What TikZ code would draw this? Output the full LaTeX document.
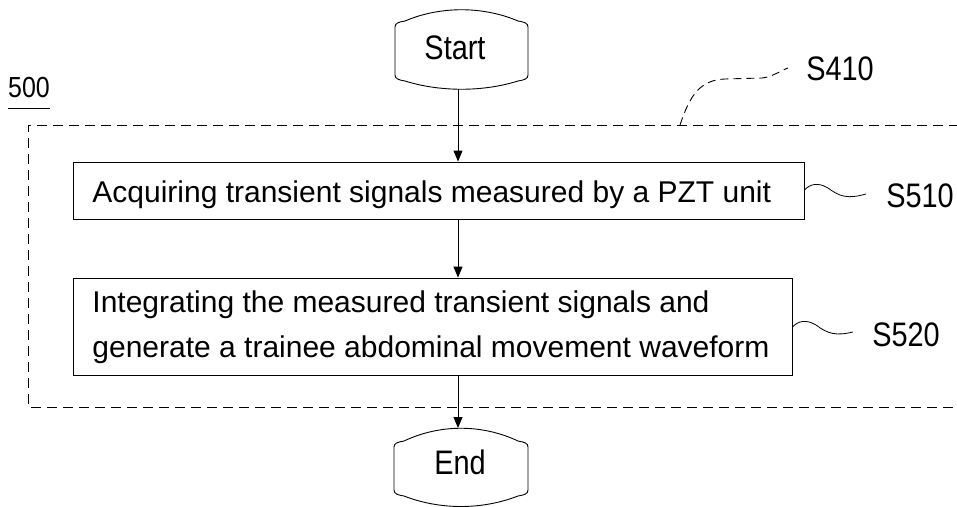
\documentclass[tikz,border=0pt]{standalone}
\usepackage{fontspec}
\setmainfont{Liberation Sans}
\usetikzlibrary{arrows.meta}
\newcommand{\lbtext}[1]{\scalebox{0.85}[1]{#1}}
\begin{document}
\begin{tikzpicture}[x=1pt,y=-1pt,
  line width=0.9pt,
  boxstyle/.style={draw, line width=0.9pt, inner sep=0pt},
  txt/.style={inner sep=0pt, font=\fontsize{30}{36}\selectfont},
  lbl/.style={inner sep=0pt, font=\fontsize{34}{40}\selectfont},
  arr/.style={line width=0.9pt, -{Triangle[width=9pt,length=11pt]}},
  dashbox/.style={line width=0.9pt, dash pattern=on 10pt off 6pt},
  squig/.style={line width=0.8pt}]
\useasboundingbox (0,0) rectangle (957,506);

% dashed frame S410 (right side lies beyond the picture)
\draw[dashbox] (975,125) -- (28,125) -- (28,407) -- (975,407);

% Start terminator
\draw (395,27) -- (395,75) .. controls (395,79) and (399,80) .. (405,81)
  .. controls (440,92) and (483,92) .. (518,81)
  .. controls (524,80) and (528,79) .. (528,75) -- (528,27)
  .. controls (528,23) and (524,22) .. (518,21)
  .. controls (483,6) and (440,6) .. (405,21)
  .. controls (399,22) and (395,23) .. (395,27) -- cycle;
\node[lbl] (start) at (455,48) {\lbtext{Start}};
\coordinate (startbot) at (458,89);

% End terminator
\draw (394,447) -- (394,490) .. controls (394,494) and (398,495) .. (404,496)
  .. controls (440,510) and (482,510) .. (518,496)
  .. controls (524,495) and (528,494) .. (528,490) -- (528,447)
  .. controls (528,443) and (524,442) .. (518,441)
  .. controls (482,424) and (440,424) .. (404,441)
  .. controls (398,442) and (394,443) .. (394,447) -- cycle;
\node[lbl] (end) at (460,462) {\lbtext{End}};
\coordinate (endtop) at (458,428);

% process boxes
\node[boxstyle, minimum width=731pt, minimum height=57pt] (b1) at (438.5,190.5) {};
\node[txt, anchor=base west] (t1) at (92,202) {Acquiring transient signals measured by a PZT unit};

\node[boxstyle, minimum width=719pt, minimum height=97pt] (b2) at (432.5,326.5) {};
\node[txt, anchor=base west] (t2a) at (92,312) {Integrating the measured transient signals and};
\node[txt, anchor=base west] (t2b) at (92,357) {generate a trainee abdominal movement waveform};

% arrows
\draw[arr] (startbot) -- (startbot |- b1.north);
\coordinate (b1bot) at (b1.south -| startbot);
\draw[arr] (b1bot) -- (b1bot |- b2.north);
\coordinate (b2bot) at (b2.south -| startbot);
\draw[arr] (b2bot) -- (endtop);

% step labels
\node[lbl] (s410) at (840,69) {\lbtext{S410}};
\node[lbl] (s510) at (920,196) {\lbtext{S510}};
\node[lbl] (s520) at (906,335) {\lbtext{S520}};

\coordinate (s410a) at (680,125);
\coordinate (s410b) at (788,68);
\draw[line width=0.9pt, dash pattern=on 8pt off 5pt] (s410a) .. controls (690,95) and (700,80) .. (725,79)
  -- (762,78) .. controls (772,77) and (780,71) .. (s410b);

\coordinate (s510a) at (b1.east |- 0,190);
\coordinate (s510b) at (866,194);
\draw[squig] (s510a) .. controls (810,184) and (818,182) .. (828,188)
  .. controls (840,197) and (848,199) .. (s510b);

\coordinate (s520a) at (b2.east |- 0,327);
\coordinate (s520b) at (853,332);
\draw[squig] (s520a) .. controls (798,321) and (806,319) .. (816,325)
  .. controls (828,334) and (836,336) .. (s520b);

% reference numeral
\node[inner sep=0pt, font=\fontsize{29}{34}\selectfont] (n500) at (29,88) {\scalebox{0.86}[1]{500}};
\draw[line width=0.7pt] (8,108) -- (50,108);
\end{tikzpicture}
\end{document}
